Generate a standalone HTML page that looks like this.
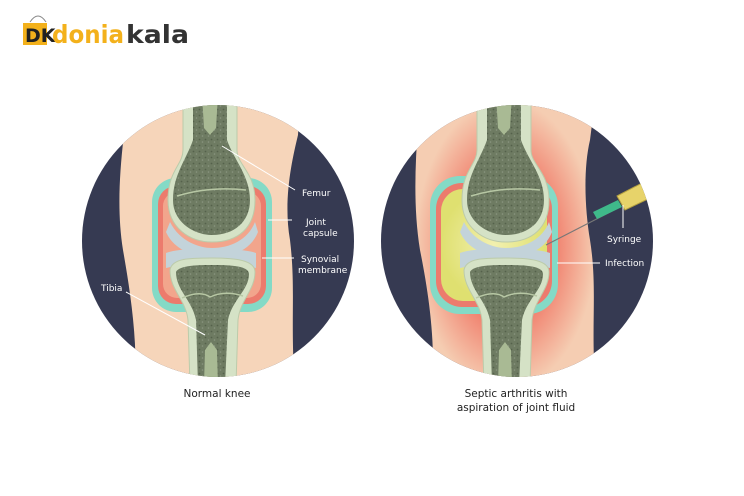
<!DOCTYPE html>
<html><head><meta charset="utf-8"><style>
html,body{margin:0;padding:0;background:#fff;width:744px;height:496px;overflow:hidden}
text{font-family:"DejaVu Sans","Liberation Sans",sans-serif}
</style></head><body>
<svg width="744" height="496" viewBox="0 0 744 496" xmlns="http://www.w3.org/2000/svg">
<defs>
<clipPath id="c1"><circle cx="218" cy="241" r="136"/></clipPath>
<clipPath id="c2"><circle cx="517" cy="241" r="136"/></clipPath>
<pattern id="sp" width="6" height="6" patternUnits="userSpaceOnUse">
<rect width="6" height="6" fill="#6e7b62"/><circle cx="1.5" cy="1.5" r="0.9" fill="#55614b"/><circle cx="4.5" cy="4" r="0.8" fill="#8a9680"/>
</pattern>
<radialGradient id="glow" cx="0.5" cy="0.5" r="0.5"><stop offset="0.5" stop-color="#f07a68"/><stop offset="1" stop-color="#f5cdb2"/></radialGradient>
<radialGradient id="yel" cx="0.5" cy="0.5" r="0.5"><stop offset="0" stop-color="#f2f0b0"/><stop offset="1" stop-color="#dfe070"/></radialGradient>
<g id="bones">
<path d="M-27,95 L-27,150 C-27,165 -42,170 -42,200 C-42,228 -20,242 2,242 C28,242 45,228 45,200 C45,172 27,165 27,150 L27,95 Z" fill="#d5e2c6" stroke="#bccbaa" stroke-width="1"/>
<path d="M-17,95 L-17,140 C-24,160 -37,175 -37,200 C-37,222 -16,235 2,235 C24,235 40,222 40,200 C40,176 24,160 17,140 L17,95 Z" fill="url(#sp)"/>
<path d="M-8,95 L-6,128 L0,135 L6,128 L8,95 Z" fill="#a9ba94"/>
<path d="M-33,196 Q0,186 36,190" stroke="#b7c7a4" stroke-width="1.5" fill="none"/>
<path d="M-40,222 C-30,242 -10,248 2,248 C20,248 38,240 45,222 L48,232 C40,252 20,257 2,257 C-16,257 -36,250 -44,232 Z" fill="#c3d3da"/>
<path d="M-44,253 C-30,247 30,247 46,253 L46,268 C20,262 -20,262 -44,268 Z" fill="#c3d3da"/>
<path d="M-40,270 C-38,258 -20,258 2,258 C25,258 45,260 45,272 C45,290 30,300 28,320 L26,385 L-20,385 L-22,320 C-24,300 -40,290 -40,270 Z" fill="#d5e2c6" stroke="#bccbaa"/>
<path d="M-34,272 C-31,265 -10,265 2,265 C22,265 39,266 39,274 C39,290 22,300 18,320 L15,385 L-12,385 L-14,320 C-18,300 -34,290 -34,272 Z" fill="url(#sp)"/>
<path d="M-28,298 Q-10,290 0,297 Q15,290 33,296" stroke="#b7c7a4" stroke-width="1.5" fill="none"/>
<path d="M-6,385 L-5,350 L1,342 L7,350 L8,385 Z" fill="#a9ba94"/>
</g>
</defs>

<rect x="23" y="23" width="24" height="22" fill="#f3b11b"/>
<text x="25" y="42" font-size="19" font-weight="bold" fill="#222">DK</text>
<path d="M30,22 Q38,10 46,22" stroke="#888" fill="none"/>
<text x="52" y="43" font-size="25" font-weight="bold" fill="#f3b11b" textLength="72" lengthAdjust="spacingAndGlyphs">donia</text>
<text x="126" y="43" font-size="25" font-weight="bold" fill="#333" textLength="63" lengthAdjust="spacingAndGlyphs">kala</text>

<g clip-path="url(#c1)">
<rect x="80" y="100" width="280" height="280" fill="#363a52"/>
<path d="M128,100 L300,100 L298,135 C292,160 283,200 290,240 C296,290 290,320 295,390 L135,390 C138,340 130,290 123,250 C115,200 122,150 128,100 Z" fill="#f6d5ba"/>
<rect x="152" y="178" width="120" height="134" rx="24" fill="#84dac6"/>
<rect x="158" y="186" width="108" height="118" rx="18" fill="#ec7b6d"/>
<rect x="163" y="192" width="98" height="106" rx="14" fill="#f2a58c"/>
<use href="#bones" x="210" y="0"/>
</g>
<g stroke="#fff" stroke-width="1" fill="none">
<line x1="222" y1="146" x2="295" y2="190"/>
<line x1="268" y1="220" x2="292" y2="220"/>
<line x1="262" y1="258" x2="294" y2="258"/>
<line x1="126" y1="292" x2="205" y2="335"/>
</g>
<g font-size="9" fill="#fff">
<text x="302" y="196">Femur</text>
<text x="306" y="225">Joint</text>
<text x="303" y="236">capsule</text>
<text x="301" y="262">Synovial</text>
<text x="298" y="273">membrane</text>
<text x="101" y="291">Tibia</text>
</g>
<text x="217" y="397" font-size="10.5" fill="#222" text-anchor="middle">Normal knee</text>

<g clip-path="url(#c2)">
<rect x="380" y="100" width="280" height="280" fill="#363a52"/>
<path d="M420,100 L595,100 L590,140 C583,170 585,210 590,240 C598,290 590,330 596,390 L432,390 C436,340 428,290 420,250 C412,200 416,150 420,100 Z" fill="url(#glow)"/>
<rect x="430" y="176" width="128" height="138" rx="30" fill="#84dac6"/>
<rect x="436" y="183" width="116" height="124" rx="26" fill="#ec7b6d"/>
<rect x="441" y="189" width="106" height="112" rx="22" fill="url(#yel)"/>
<use href="#bones" x="504" y="0"/>
<line x1="546" y1="245" x2="618" y2="208" stroke="#777" stroke-width="1.2"/>
<path d="M593,212 L618,200 L622,207 L597,219 Z" fill="#3fb98a"/>
<path d="M617,196 L642,183 L650,198 L625,210 Z" fill="#e7d36a" stroke="#b4a040"/>
</g>
<g stroke="#fff" stroke-width="1" fill="none">
<line x1="623" y1="205" x2="623" y2="228"/>
<line x1="557" y1="263" x2="600" y2="263"/>
</g>
<g font-size="9" fill="#fff">
<text x="607" y="242">Syringe</text>
<text x="605" y="266">Infection</text>
</g>
<text x="516" y="397" font-size="10.5" fill="#222" text-anchor="middle">Septic arthritis with</text>
<text x="516" y="411" font-size="10.5" fill="#222" text-anchor="middle">aspiration of joint fluid</text>
</svg>
</body></html>
